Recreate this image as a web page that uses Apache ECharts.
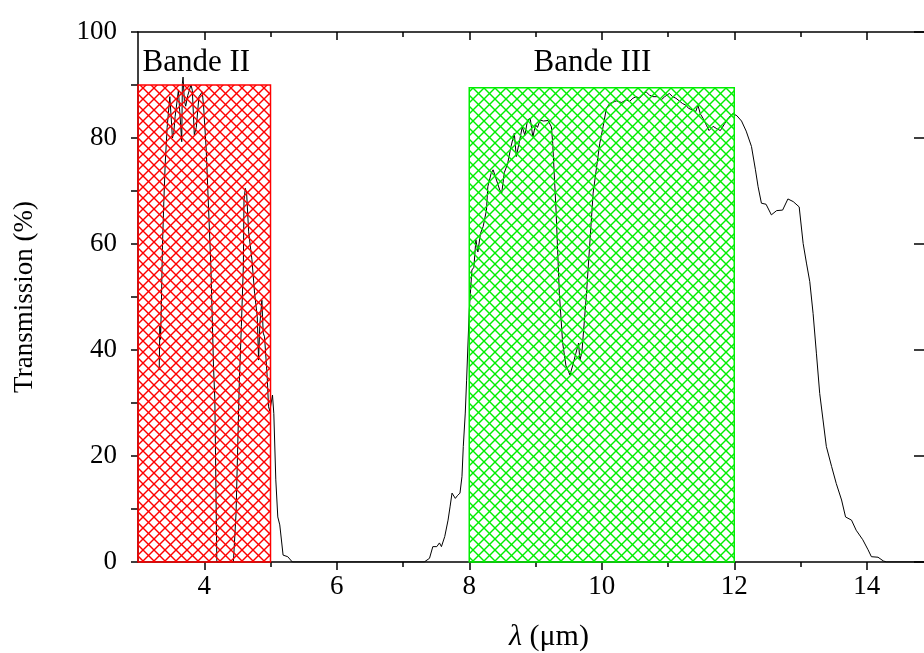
<!DOCTYPE html>
<html><head><meta charset="utf-8">
<script src="https://cdn.jsdelivr.net/npm/echarts@6/dist/echarts.min.js"></script>
<style>html,body{margin:0;padding:0;background:#fff}#c{width:924px;height:653px}</style>
</head><body><div id="c"></div>
<script>
// ---- data ----
const wavelength = [3.32,3.33,3.34,3.35,3.37,3.39,3.41,3.44,3.48,3.50,3.52,3.54,3.56,3.61,3.63,3.66,3.67,3.68,3.70,3.72,3.75,3.80,3.82,3.85,3.88,3.92,3.97,3.99,4.03,4.06,4.10,4.14,4.16,4.19,4.44,4.48,4.53,4.56,4.59,4.60,4.62,4.64,4.67,4.69,4.72,4.76,4.80,4.82,4.84,4.87,4.89,4.91,4.95,4.97,4.99,5.01,5.03,5.05,5.08,5.11,5.14,5.19,5.22,5.26,5.33,
7.32,7.40,7.45,7.48,7.51,7.55,7.58,7.63,7.68,7.71,7.74,7.76,7.79,7.82,7.86,7.89,7.91,7.94,7.96,8.00,8.04,8.07,8.10,8.13,8.17,8.21,8.26,8.28,8.33,8.36,8.40,8.46,8.49,8.53,8.58,8.63,8.68,8.71,8.76,8.80,8.84,8.88,8.92,8.96,9.00,9.03,9.07,9.12,9.19,9.24,9.26,9.29,9.31,9.36,9.41,9.46,9.49,9.52,9.56,9.61,9.65,9.67,9.70,9.77,9.87,9.97,10.02,10.07,10.12,10.22,10.30,10.37,10.42,10.47,10.52,10.57,10.62,10.67,10.72,10.77,10.84,10.90,10.95,11.02,11.07,11.12,11.17,11.22,11.27,11.31,11.37,11.42,11.45,11.49,11.53,11.58,11.62,11.68,11.73,11.79,11.86,11.92,11.98,12.04,12.11,12.18,12.26,12.32,12.36,12.41,12.48,12.56,12.64,12.73,12.81,12.89,12.98,13.04,13.09,13.14,13.19,13.24,13.29,13.34,13.39,13.47,13.54,13.62,13.68,13.77,13.84,13.94,14.02,14.07,14.17,14.25,14.30,15.00];
const transmission = [36.2,44.5,42,47,60,68,75,82,87.8,84,80,81,84,89,85,79.3,90.3,91.5,87,86,88,90,89,80.6,82,87.8,88.7,86,77.7,68.3,55.7,36.8,30.6,0,0,9.2,34.3,44.4,55.7,68.3,70.5,69.6,62.3,62,57,50.7,46.3,38.1,45,49.4,43.2,42.5,35,29.3,28.5,30,31.5,28,15.5,8.5,7,1.3,1.5,1.0,0,
0,0.7,2.9,3.2,2.9,3.6,2.9,4.8,7.9,10.4,13,13.2,12,12.5,13,16.1,21.8,28.1,34.3,47.5,55.1,55.6,60.8,58.5,62,63.3,66.4,70.8,73.3,74,72.5,70.2,69.6,73.5,75.2,78.4,80.9,76.5,79.5,82.1,80.5,83.4,83.7,80.2,82.5,82,83.4,83.2,83.3,82.1,79,71.4,66.4,50.7,41.3,37,36.2,35.3,37,39.4,41.3,38.1,39.5,50.7,69.6,79,82.1,85.6,86.5,87,86.7,87.2,86.9,87.5,87.8,87.5,88.2,88.7,88.1,87.8,87.8,87.2,87.8,88.4,87.8,87.5,87,86.5,86.2,85.6,85.3,85,86.2,84.5,83.7,82.4,81.4,82.2,81.8,81.4,82.8,83.9,84.6,84.2,83.2,81.3,78.4,74,70.8,67.7,67.5,65.5,66.3,66.4,68.5,68,67,60.1,56.4,52.9,46.9,39.4,31.8,26.8,21.8,18,14.8,11.7,8.5,7.9,6,4.2,2.3,1,0.9,0.2,0,0];

const bandNames = ['Bande II', 'Bande III'];
const bandStart = [3, 8];
const bandEnd = [5, 12];
const bandTop = [90, 89.5];
const bandLabelX = [3.88, 9.86];
const bandLabelY = [94.2, 94.2];
const bandColors = ['#ff0000', '#00ee00'];

const xMajorTicks = [4, 6, 8, 10, 12, 14];
const xMinorTicks = [5, 7, 9, 11, 13, 15];

const xTitle = '{i|λ} (μm)';
const yTitle = 'Transmission (%)';

// ---- rendering ----
const FONT = '"Liberation Serif", "Times New Roman", serif';
function makeHatch(color) {
  const s = 11;
  const cv = document.createElement('canvas');
  cv.width = s; cv.height = s;
  const ctx = cv.getContext('2d');
  ctx.strokeStyle = color;
  ctx.lineWidth = 1.4;
  for (let k = -1; k <= 1; k++) {
    ctx.beginPath(); ctx.moveTo(k * s, 0); ctx.lineTo(k * s + s, s); ctx.stroke();
    ctx.beginPath(); ctx.moveTo(k * s, s); ctx.lineTo(k * s + s, 0); ctx.stroke();
  }
  return cv;
}
const hatches = bandColors.map(makeHatch);

const lineData = wavelength.map((x, i) => [x, transmission[i]]);
const bandData = bandNames.map((n, i) => [bandStart[i], bandEnd[i], bandTop[i], bandLabelX[i], bandLabelY[i]]);

const chart = echarts.init(document.getElementById('c'), null, {renderer: 'canvas'});

const axisLine = {show: true, lineStyle: {color: '#000', width: 1.5}};
const baseX = {type: 'value', min: 3, max: 15, splitLine: {show: false}};

chart.setOption({
  animation: false,
  backgroundColor: '#fff',
  grid: {left: 138, top: 32, right: -9, bottom: 91, containLabel: false, outerBoundsMode: 'none'},
  xAxis: [
    Object.assign({}, baseX, {position: 'bottom', axisLine: axisLine,
      axisTick: {show: true, inside: false, length: 8, customValues: xMajorTicks, lineStyle: {color: '#000', width: 1.5}},
      axisLabel: {show: true, customValues: xMajorTicks, margin: 11, color: '#000', fontSize: 27, fontFamily: FONT}}),
    Object.assign({}, baseX, {position: 'bottom', axisLine: {show: false},
      axisTick: {show: true, inside: false, length: 5, customValues: xMinorTicks, lineStyle: {color: '#000', width: 1.5}},
      axisLabel: {show: false}}),
    Object.assign({}, baseX, {position: 'top', axisLine: axisLine,
      axisTick: {show: true, inside: true, length: 8, customValues: xMajorTicks, lineStyle: {color: '#000', width: 1.5}},
      axisLabel: {show: false}}),
    Object.assign({}, baseX, {position: 'top', axisLine: {show: false},
      axisTick: {show: true, inside: true, length: 5, customValues: xMinorTicks, lineStyle: {color: '#000', width: 1.5}},
      axisLabel: {show: false}})
  ],
  yAxis: [
    {type: 'value', min: 0, max: 100, interval: 20, position: 'left', splitLine: {show: false},
      axisLine: axisLine,
      axisTick: {show: true, inside: false, length: 7, lineStyle: {color: '#000', width: 1.5}},
      minorTick: {show: true, splitNumber: 2, length: 7, lineStyle: {color: '#000', width: 1.5}},
      axisLabel: {show: true, margin: 21, color: '#000', fontSize: 27, fontFamily: FONT}},
    {type: 'value', min: 0, max: 100, interval: 20, position: 'right', splitLine: {show: false},
      axisLine: axisLine,
      axisTick: {show: true, inside: true, length: 19, lineStyle: {color: '#000', width: 1.5}},
      axisLabel: {show: false}}
  ],
  series: [
    {type: 'line', xAxisIndex: 0, yAxisIndex: 0, data: lineData, showSymbol: false, symbol: 'none',
      lineStyle: {color: '#000', width: 1}, z: 2, silent: true},
    {type: 'custom', xAxisIndex: 0, yAxisIndex: 0, data: bandData, z: 3, silent: true,
      renderItem: function (params, api) {
        const i = params.dataIndex;
        const p0 = api.coord([api.value(0), 0]);
        const p1 = api.coord([api.value(1), api.value(2)]);
        const lp = api.coord([api.value(3), api.value(4)]);
        return {type: 'group', children: [
          {type: 'rect', shape: {x: p0[0], y: p1[1], width: p1[0] - p0[0], height: p0[1] - p1[1]},
            style: {fill: {image: hatches[i], repeat: 'repeat'}, stroke: bandColors[i], lineWidth: 1.5}},
          {type: 'text', x: lp[0], y: lp[1],
            style: {text: bandNames[i], fill: '#000', font: '31px ' + FONT, align: 'center', verticalAlign: 'middle'}}
        ]};
      }}
  ],
  graphic: [
    {type: 'text', x: 549, y: 637, style: {text: xTitle, fill: '#000', fontSize: 30, fontFamily: FONT,
      align: 'center', verticalAlign: 'middle', rich: {i: {fontStyle: 'italic', fontSize: 30, fontFamily: FONT}}}},
    {type: 'text', x: 25, y: 297, rotation: Math.PI / 2,
      style: {text: yTitle, fill: '#000', fontSize: 27, fontFamily: FONT, align: 'center', verticalAlign: 'middle'}}
  ]
});
</script>
</body></html>
